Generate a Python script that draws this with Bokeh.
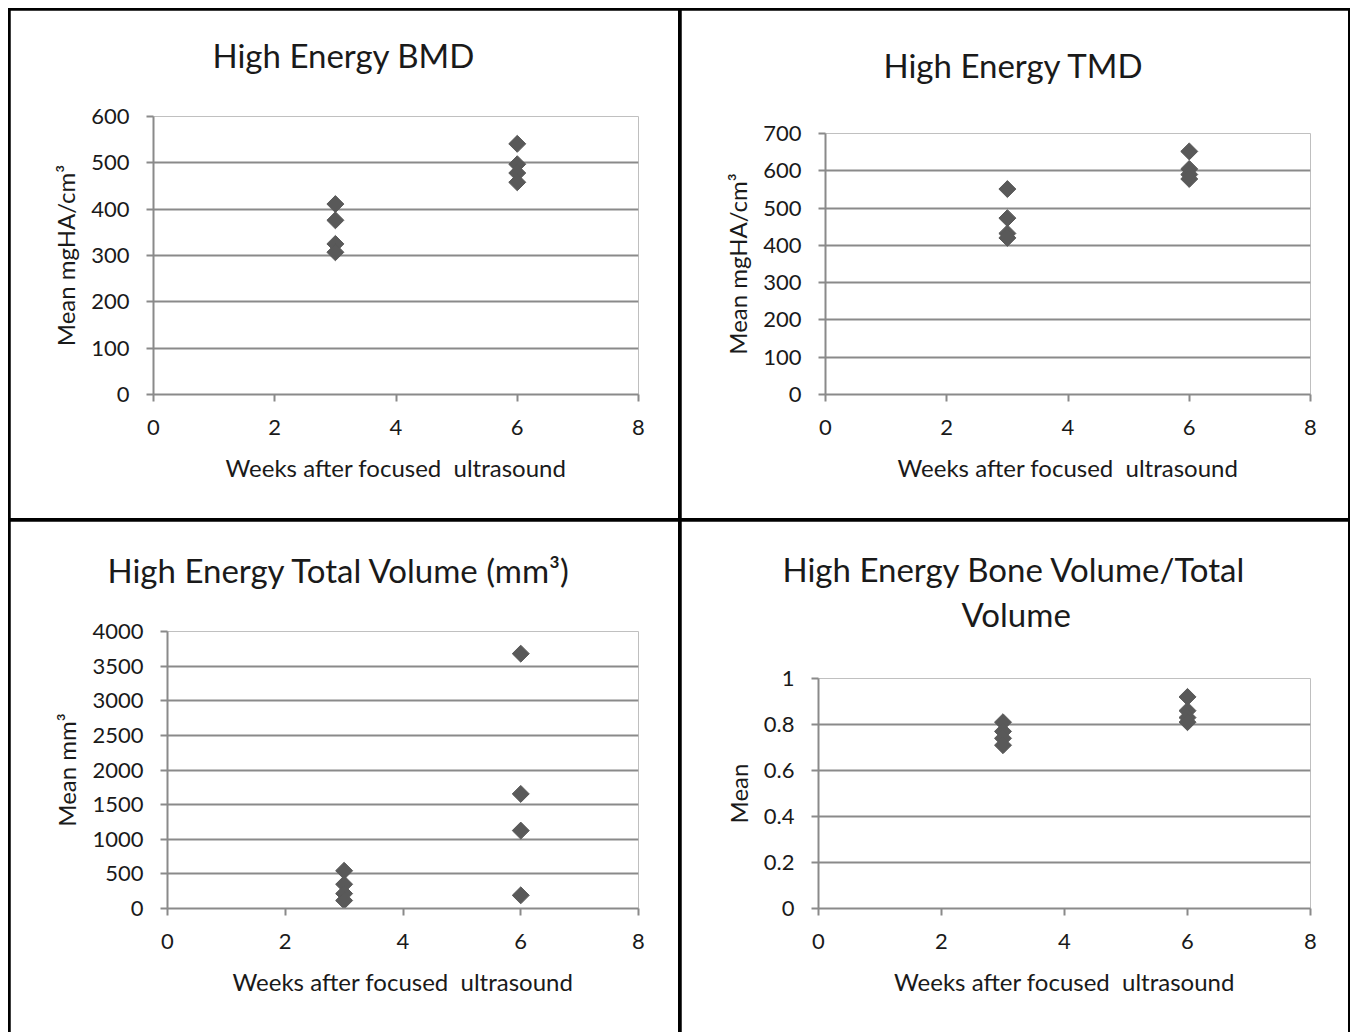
from bokeh.plotting import figure
from bokeh.layouts import column, row
from bokeh.models import FixedTicker, Range1d, Title
from bokeh.embed import file_html
from bokeh.resources import INLINE
import math

# ---- data ----
week_x = [3, 3, 3, 3, 6, 6, 6, 6]
bmd_y = [411, 376, 325, 307, 541, 497, 478, 458]
tmd_y = [551, 473, 432, 420, 652, 605, 590, 578]
tv_y = [545, 350, 215, 115, 3680, 1655, 1125, 190]
bvtv_y = [0.81, 0.77, 0.74, 0.71, 0.92, 0.86, 0.83, 0.81]

x_ticks = [0, 2, 4, 6, 8]
bmd_ticks = [0, 100, 200, 300, 400, 500, 600]
tmd_ticks = [0, 100, 200, 300, 400, 500, 600, 700]
tv_ticks = [0, 500, 1000, 1500, 2000, 2500, 3000, 3500, 4000]
bvtv_ticks = [0, 0.2, 0.4, 0.6, 0.8, 1]

titles = [["High Energy BMD"], ["High Energy TMD"], ["High Energy Total Volume (mm³)"],
          ["High Energy Bone Volume/Total", "Volume"]]
ylabels = ["Mean mgHA/cm³", "Mean mgHA/cm³", "Mean mm³", "Mean"]
xlabel = "Weeks after focused\u00a0 ultrasound"

FONT = "Lato"
GRID = "#8a8a8a"
MARK = "#595959"
TXT = "#1a1a1a"


def panel(ys, yticks, title_lines, ylabel, w, h, bl, br, bt, bb, spacer, offsets,
          tstand=10, overrides=None):
    p = figure(width=w, height=h, output_backend="svg", toolbar_location=None,
               x_range=Range1d(0, 8), y_range=Range1d(yticks[0], yticks[-1]),
               min_border_left=bl, min_border_right=br, min_border_top=bt,
               min_border_bottom=bb)
    p.outline_line_color = None
    p.background_fill_color = "white"
    p.border_fill_color = "white"
    p.xgrid.grid_line_color = None
    p.ygrid.grid_line_color = GRID
    p.ygrid.grid_line_width = 2
    p.yaxis.ticker = FixedTicker(ticks=yticks)
    p.xaxis.ticker = FixedTicker(ticks=x_ticks)
    if overrides:
        p.yaxis.major_label_overrides = overrides
    for ax in (p.xaxis[0], p.yaxis[0]):
        ax.axis_line_color = GRID
        ax.axis_line_width = 2
        ax.major_tick_line_color = GRID
        ax.major_tick_line_width = 2
        ax.major_tick_out = 7
        ax.major_tick_in = 0
        ax.minor_tick_line_color = None
        ax.major_label_text_font = FONT
        ax.major_label_text_font_size = "22px"
        ax.major_label_text_color = TXT
        ax.axis_label_text_font = FONT
        ax.axis_label_text_font_size = "24px"
        ax.axis_label_text_font_style = "normal"
        ax.axis_label_text_color = TXT
    p.xaxis.major_label_standoff = 18
    p.yaxis.major_label_standoff = 17
    p.xaxis.axis_label = xlabel
    p.yaxis.axis_label = ylabel
    p.xaxis.axis_label_standoff = 15
    p.yaxis.axis_label_standoff = 8
    # spacer between frame and title
    p.add_layout(Title(text=" ", text_font_size="10px", standoff=spacer), "above")
    for line, off in zip(reversed(title_lines), reversed(offsets)):
        p.add_layout(Title(text=line, align="left", offset=off, standoff=tstand,
                           text_font=FONT, text_font_size="33px",
                           text_font_style="normal", text_color=TXT), "above")
    p.scatter(week_x, ys, marker="square", angle=math.pi / 4, size=12,
              fill_color=MARK, line_color=MARK)
    return p


p1 = panel(bmd_y, bmd_ticks, titles[0], ylabels[0], 668, 508, 143, 40, 106, 124, 24, [59])
p2 = panel(tmd_y, tmd_ticks, titles[1], ylabels[1], 667, 508, 144, 38, 123, 124, 31, [58])
p3 = panel(tv_y, tv_ticks, titles[2], ylabels[2], 668, 515, 157, 40, 110, 128, 24, [-60])
p4 = panel(bvtv_y, bvtv_ticks, titles[3], ylabels[3], 667, 515, 137, 38, 157, 128, 30, [-36, 143],
           tstand=3, overrides={0: "0", 1: "1"})

layout = column(row(column(p1), column(p2), spacing=3),
                row(column(p3), column(p4), spacing=3), spacing=3,
                margin=(8, 0, 0, 8),
                styles={"background-color": "black", "padding": "2px"})

open("out.html", "w").write(file_html(layout, INLINE))
